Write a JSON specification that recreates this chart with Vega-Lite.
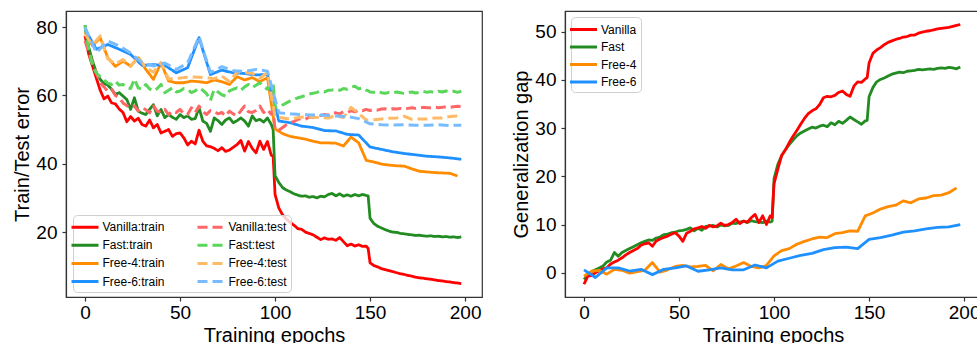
{
"$schema":"https://vega.github.io/schema/vega-lite/v6.json",
"padding":{"left":12,"top":10,"right":0,"bottom":0},
"background":"white",
"spacing":83,
"bounds":"flush",
"config":{
 "font":"Liberation Sans",
 "view":{"stroke":"#333","strokeWidth":1.2},
 "axis":{"grid":false,"domainColor":"#333","domainWidth":1.2,"tickColor":"#333","tickWidth":1.2,"tickSize":4,"labelFontSize":19,"titleFontSize":20,"labelColor":"black","titleColor":"black","titleFontWeight":"normal","labelFlush":false,"labelOverlap":false},
 "legend":{"title":null,"fillColor":"rgba(255,255,255,0.8)","strokeColor":"#d0d0d0","cornerRadius":4,"padding":4,"symbolType":"M-2,0L2,0","symbolSize":182,"symbolStrokeWidth":3,"labelFontSize":12,"labelColor":"black","labelOffset":9,"rowPadding":2.5}
},
"resolve":{"scale":{"color":"independent","strokeDash":"independent","x":"independent","y":"independent"},"legend":{"color":"independent","strokeDash":"independent"}},
"datasets":{
"left":[
{"k":"Vanilla:train","e":0,"v":77.5},{"k":"Vanilla:train","e":2,"v":72.0},{"k":"Vanilla:train","e":4,"v":68.5},{"k":"Vanilla:train","e":6,"v":65.0},{"k":"Vanilla:train","e":8,"v":61.5},{"k":"Vanilla:train","e":10,"v":59.0},{"k":"Vanilla:train","e":12,"v":59.8},{"k":"Vanilla:train","e":14,"v":57.8},{"k":"Vanilla:train","e":16,"v":57.5},{"k":"Vanilla:train","e":18,"v":56.0},{"k":"Vanilla:train","e":20,"v":55.0},{"k":"Vanilla:train","e":22,"v":52.3},{"k":"Vanilla:train","e":24,"v":53.8},{"k":"Vanilla:train","e":26,"v":52.5},{"k":"Vanilla:train","e":28,"v":53.3},{"k":"Vanilla:train","e":30,"v":51.5},{"k":"Vanilla:train","e":32,"v":51.0},{"k":"Vanilla:train","e":34,"v":52.8},{"k":"Vanilla:train","e":36,"v":50.5},{"k":"Vanilla:train","e":38,"v":51.5},{"k":"Vanilla:train","e":40,"v":49.0},{"k":"Vanilla:train","e":42,"v":49.5},{"k":"Vanilla:train","e":44,"v":50.0},{"k":"Vanilla:train","e":46,"v":48.0},{"k":"Vanilla:train","e":48,"v":48.8},{"k":"Vanilla:train","e":50,"v":49.0},{"k":"Vanilla:train","e":52,"v":47.6},{"k":"Vanilla:train","e":54,"v":45.5},{"k":"Vanilla:train","e":56,"v":46.6},{"k":"Vanilla:train","e":58,"v":45.8},{"k":"Vanilla:train","e":60,"v":49.8},{"k":"Vanilla:train","e":62,"v":46.6},{"k":"Vanilla:train","e":64,"v":45.2},{"k":"Vanilla:train","e":66,"v":45.0},{"k":"Vanilla:train","e":68,"v":44.5},{"k":"Vanilla:train","e":70,"v":43.8},{"k":"Vanilla:train","e":72,"v":44.7},{"k":"Vanilla:train","e":74,"v":43.6},{"k":"Vanilla:train","e":76,"v":44.0},{"k":"Vanilla:train","e":78,"v":44.8},{"k":"Vanilla:train","e":80,"v":45.6},{"k":"Vanilla:train","e":82,"v":46.8},{"k":"Vanilla:train","e":84,"v":43.7},{"k":"Vanilla:train","e":86,"v":46.5},{"k":"Vanilla:train","e":88,"v":44.5},{"k":"Vanilla:train","e":90,"v":43.2},{"k":"Vanilla:train","e":92,"v":46.6},{"k":"Vanilla:train","e":94,"v":44.2},{"k":"Vanilla:train","e":96,"v":46.5},{"k":"Vanilla:train","e":98,"v":42.5},{"k":"Vanilla:train","e":99,"v":42.2},{"k":"Vanilla:train","e":100,"v":31.0},{"k":"Vanilla:train","e":102,"v":27.0},{"k":"Vanilla:train","e":104,"v":25.0},{"k":"Vanilla:train","e":106,"v":23.8},{"k":"Vanilla:train","e":108,"v":22.8},{"k":"Vanilla:train","e":110,"v":22.0},{"k":"Vanilla:train","e":112,"v":21.0},{"k":"Vanilla:train","e":114,"v":20.8},{"k":"Vanilla:train","e":116,"v":20.0},{"k":"Vanilla:train","e":118,"v":19.6},{"k":"Vanilla:train","e":120,"v":19.2},{"k":"Vanilla:train","e":122,"v":18.5},{"k":"Vanilla:train","e":124,"v":17.8},{"k":"Vanilla:train","e":126,"v":18.3},{"k":"Vanilla:train","e":128,"v":17.9},{"k":"Vanilla:train","e":130,"v":18.0},{"k":"Vanilla:train","e":132,"v":17.6},{"k":"Vanilla:train","e":134,"v":18.4},{"k":"Vanilla:train","e":136,"v":17.2},{"k":"Vanilla:train","e":138,"v":16.0},{"k":"Vanilla:train","e":140,"v":16.5},{"k":"Vanilla:train","e":142,"v":15.9},{"k":"Vanilla:train","e":144,"v":16.3},{"k":"Vanilla:train","e":146,"v":15.8},{"k":"Vanilla:train","e":148,"v":15.9},{"k":"Vanilla:train","e":149,"v":15.2},{"k":"Vanilla:train","e":150,"v":11.0},{"k":"Vanilla:train","e":152,"v":10.2},{"k":"Vanilla:train","e":154,"v":9.8},{"k":"Vanilla:train","e":156,"v":9.3},{"k":"Vanilla:train","e":158,"v":9.0},{"k":"Vanilla:train","e":160,"v":8.7},{"k":"Vanilla:train","e":162,"v":8.4},{"k":"Vanilla:train","e":164,"v":8.1},{"k":"Vanilla:train","e":166,"v":7.8},{"k":"Vanilla:train","e":168,"v":7.6},{"k":"Vanilla:train","e":170,"v":7.3},{"k":"Vanilla:train","e":172,"v":7.1},{"k":"Vanilla:train","e":174,"v":6.8},{"k":"Vanilla:train","e":176,"v":6.6},{"k":"Vanilla:train","e":178,"v":6.5},{"k":"Vanilla:train","e":180,"v":6.3},{"k":"Vanilla:train","e":182,"v":6.2},{"k":"Vanilla:train","e":184,"v":6.0},{"k":"Vanilla:train","e":186,"v":5.8},{"k":"Vanilla:train","e":188,"v":5.7},{"k":"Vanilla:train","e":190,"v":5.5},{"k":"Vanilla:train","e":192,"v":5.4},{"k":"Vanilla:train","e":194,"v":5.2},{"k":"Vanilla:train","e":196,"v":5.1},{"k":"Vanilla:train","e":198,"v":4.9},
{"k":"Fast:train","e":0,"v":80.5},{"k":"Fast:train","e":2,"v":74.0},{"k":"Fast:train","e":4,"v":70.0},{"k":"Fast:train","e":6,"v":66.6},{"k":"Fast:train","e":8,"v":64.7},{"k":"Fast:train","e":10,"v":63.5},{"k":"Fast:train","e":12,"v":63.0},{"k":"Fast:train","e":14,"v":61.8},{"k":"Fast:train","e":16,"v":60.3},{"k":"Fast:train","e":18,"v":60.8},{"k":"Fast:train","e":20,"v":59.8},{"k":"Fast:train","e":22,"v":58.8},{"k":"Fast:train","e":24,"v":55.9},{"k":"Fast:train","e":26,"v":59.3},{"k":"Fast:train","e":28,"v":55.4},{"k":"Fast:train","e":30,"v":54.8},{"k":"Fast:train","e":32,"v":54.4},{"k":"Fast:train","e":34,"v":55.9},{"k":"Fast:train","e":36,"v":57.3},{"k":"Fast:train","e":38,"v":54.0},{"k":"Fast:train","e":40,"v":55.9},{"k":"Fast:train","e":42,"v":53.5},{"k":"Fast:train","e":44,"v":54.4},{"k":"Fast:train","e":46,"v":53.6},{"k":"Fast:train","e":48,"v":53.0},{"k":"Fast:train","e":50,"v":54.4},{"k":"Fast:train","e":52,"v":53.5},{"k":"Fast:train","e":54,"v":54.0},{"k":"Fast:train","e":56,"v":53.0},{"k":"Fast:train","e":58,"v":53.2},{"k":"Fast:train","e":60,"v":56.4},{"k":"Fast:train","e":62,"v":52.5},{"k":"Fast:train","e":64,"v":51.8},{"k":"Fast:train","e":66,"v":49.5},{"k":"Fast:train","e":68,"v":53.4},{"k":"Fast:train","e":70,"v":52.6},{"k":"Fast:train","e":72,"v":51.5},{"k":"Fast:train","e":74,"v":52.8},{"k":"Fast:train","e":76,"v":53.4},{"k":"Fast:train","e":78,"v":52.0},{"k":"Fast:train","e":80,"v":52.6},{"k":"Fast:train","e":82,"v":53.4},{"k":"Fast:train","e":84,"v":52.5},{"k":"Fast:train","e":86,"v":51.0},{"k":"Fast:train","e":88,"v":54.0},{"k":"Fast:train","e":90,"v":52.6},{"k":"Fast:train","e":92,"v":53.0},{"k":"Fast:train","e":94,"v":52.2},{"k":"Fast:train","e":96,"v":53.4},{"k":"Fast:train","e":98,"v":51.5},{"k":"Fast:train","e":99,"v":50.0},{"k":"Fast:train","e":100,"v":36.5},{"k":"Fast:train","e":102,"v":34.5},{"k":"Fast:train","e":104,"v":33.0},{"k":"Fast:train","e":106,"v":32.3},{"k":"Fast:train","e":108,"v":31.8},{"k":"Fast:train","e":110,"v":31.2},{"k":"Fast:train","e":112,"v":30.8},{"k":"Fast:train","e":114,"v":30.5},{"k":"Fast:train","e":116,"v":30.6},{"k":"Fast:train","e":118,"v":30.2},{"k":"Fast:train","e":120,"v":30.4},{"k":"Fast:train","e":122,"v":30.0},{"k":"Fast:train","e":124,"v":30.5},{"k":"Fast:train","e":126,"v":30.3},{"k":"Fast:train","e":128,"v":31.0},{"k":"Fast:train","e":130,"v":31.3},{"k":"Fast:train","e":132,"v":30.6},{"k":"Fast:train","e":134,"v":31.2},{"k":"Fast:train","e":136,"v":30.5},{"k":"Fast:train","e":138,"v":30.9},{"k":"Fast:train","e":140,"v":30.5},{"k":"Fast:train","e":142,"v":31.0},{"k":"Fast:train","e":144,"v":30.6},{"k":"Fast:train","e":146,"v":31.0},{"k":"Fast:train","e":148,"v":30.7},{"k":"Fast:train","e":149,"v":30.6},{"k":"Fast:train","e":150,"v":24.0},{"k":"Fast:train","e":152,"v":22.5},{"k":"Fast:train","e":154,"v":21.7},{"k":"Fast:train","e":156,"v":21.2},{"k":"Fast:train","e":158,"v":20.7},{"k":"Fast:train","e":160,"v":20.3},{"k":"Fast:train","e":162,"v":20.0},{"k":"Fast:train","e":164,"v":19.9},{"k":"Fast:train","e":166,"v":19.6},{"k":"Fast:train","e":168,"v":19.5},{"k":"Fast:train","e":170,"v":19.3},{"k":"Fast:train","e":172,"v":19.2},{"k":"Fast:train","e":174,"v":19.0},{"k":"Fast:train","e":176,"v":19.1},{"k":"Fast:train","e":178,"v":18.9},{"k":"Fast:train","e":180,"v":18.8},{"k":"Fast:train","e":182,"v":18.9},{"k":"Fast:train","e":184,"v":18.7},{"k":"Fast:train","e":186,"v":18.8},{"k":"Fast:train","e":188,"v":18.6},{"k":"Fast:train","e":190,"v":18.7},{"k":"Fast:train","e":192,"v":18.5},{"k":"Fast:train","e":194,"v":18.6},{"k":"Fast:train","e":196,"v":18.4},{"k":"Fast:train","e":198,"v":18.6},
{"k":"Free-4:train","e":0,"v":78.5},{"k":"Free-4:train","e":4,"v":74.5},{"k":"Free-4:train","e":8,"v":76.9},{"k":"Free-4:train","e":12,"v":71.0},{"k":"Free-4:train","e":16,"v":68.5},{"k":"Free-4:train","e":20,"v":70.0},{"k":"Free-4:train","e":24,"v":68.6},{"k":"Free-4:train","e":28,"v":71.0},{"k":"Free-4:train","e":32,"v":67.6},{"k":"Free-4:train","e":36,"v":64.7},{"k":"Free-4:train","e":40,"v":69.5},{"k":"Free-4:train","e":44,"v":64.2},{"k":"Free-4:train","e":48,"v":63.7},{"k":"Free-4:train","e":52,"v":63.7},{"k":"Free-4:train","e":56,"v":64.2},{"k":"Free-4:train","e":60,"v":64.0},{"k":"Free-4:train","e":64,"v":63.7},{"k":"Free-4:train","e":68,"v":64.5},{"k":"Free-4:train","e":72,"v":64.0},{"k":"Free-4:train","e":76,"v":63.2},{"k":"Free-4:train","e":80,"v":65.5},{"k":"Free-4:train","e":84,"v":64.5},{"k":"Free-4:train","e":88,"v":65.2},{"k":"Free-4:train","e":92,"v":64.0},{"k":"Free-4:train","e":96,"v":65.2},{"k":"Free-4:train","e":100,"v":50.2},{"k":"Free-4:train","e":104,"v":48.8},{"k":"Free-4:train","e":108,"v":48.0},{"k":"Free-4:train","e":112,"v":47.6},{"k":"Free-4:train","e":116,"v":47.2},{"k":"Free-4:train","e":120,"v":46.6},{"k":"Free-4:train","e":124,"v":46.1},{"k":"Free-4:train","e":128,"v":46.1},{"k":"Free-4:train","e":132,"v":46.0},{"k":"Free-4:train","e":136,"v":45.2},{"k":"Free-4:train","e":140,"v":47.8},{"k":"Free-4:train","e":144,"v":46.1},{"k":"Free-4:train","e":148,"v":41.0},{"k":"Free-4:train","e":152,"v":40.5},{"k":"Free-4:train","e":156,"v":39.9},{"k":"Free-4:train","e":160,"v":39.6},{"k":"Free-4:train","e":164,"v":39.4},{"k":"Free-4:train","e":168,"v":39.3},{"k":"Free-4:train","e":172,"v":38.5},{"k":"Free-4:train","e":176,"v":37.8},{"k":"Free-4:train","e":180,"v":37.6},{"k":"Free-4:train","e":184,"v":37.4},{"k":"Free-4:train","e":188,"v":37.3},{"k":"Free-4:train","e":192,"v":37.2},{"k":"Free-4:train","e":196,"v":36.4},
{"k":"Free-6:train","e":0,"v":79.3},{"k":"Free-6:train","e":6,"v":73.5},{"k":"Free-6:train","e":12,"v":74.9},{"k":"Free-6:train","e":18,"v":73.5},{"k":"Free-6:train","e":24,"v":72.0},{"k":"Free-6:train","e":30,"v":68.8},{"k":"Free-6:train","e":36,"v":69.0},{"k":"Free-6:train","e":42,"v":68.8},{"k":"Free-6:train","e":48,"v":66.6},{"k":"Free-6:train","e":54,"v":68.1},{"k":"Free-6:train","e":60,"v":76.9},{"k":"Free-6:train","e":66,"v":66.1},{"k":"Free-6:train","e":72,"v":67.4},{"k":"Free-6:train","e":78,"v":66.6},{"k":"Free-6:train","e":84,"v":66.4},{"k":"Free-6:train","e":90,"v":66.0},{"k":"Free-6:train","e":96,"v":66.1},{"k":"Free-6:train","e":102,"v":52.5},{"k":"Free-6:train","e":108,"v":52.0},{"k":"Free-6:train","e":114,"v":51.0},{"k":"Free-6:train","e":120,"v":50.6},{"k":"Free-6:train","e":126,"v":49.7},{"k":"Free-6:train","e":132,"v":49.6},{"k":"Free-6:train","e":138,"v":48.6},{"k":"Free-6:train","e":144,"v":48.4},{"k":"Free-6:train","e":150,"v":44.9},{"k":"Free-6:train","e":156,"v":44.2},{"k":"Free-6:train","e":162,"v":43.5},{"k":"Free-6:train","e":168,"v":43.0},{"k":"Free-6:train","e":174,"v":42.6},{"k":"Free-6:train","e":180,"v":42.2},{"k":"Free-6:train","e":186,"v":42.0},{"k":"Free-6:train","e":192,"v":41.7},{"k":"Free-6:train","e":198,"v":41.3},
{"k":"Vanilla:test","e":0,"v":76.0},{"k":"Vanilla:test","e":2,"v":72.5},{"k":"Vanilla:test","e":4,"v":69.5},{"k":"Vanilla:test","e":6,"v":66.5},{"k":"Vanilla:test","e":8,"v":63.7},{"k":"Vanilla:test","e":10,"v":62.5},{"k":"Vanilla:test","e":12,"v":61.2},{"k":"Vanilla:test","e":14,"v":61.8},{"k":"Vanilla:test","e":16,"v":60.0},{"k":"Vanilla:test","e":18,"v":59.3},{"k":"Vanilla:test","e":20,"v":57.8},{"k":"Vanilla:test","e":22,"v":57.0},{"k":"Vanilla:test","e":24,"v":56.4},{"k":"Vanilla:test","e":26,"v":56.9},{"k":"Vanilla:test","e":28,"v":55.4},{"k":"Vanilla:test","e":30,"v":56.4},{"k":"Vanilla:test","e":32,"v":55.8},{"k":"Vanilla:test","e":34,"v":54.9},{"k":"Vanilla:test","e":36,"v":56.9},{"k":"Vanilla:test","e":38,"v":55.4},{"k":"Vanilla:test","e":40,"v":55.0},{"k":"Vanilla:test","e":42,"v":55.9},{"k":"Vanilla:test","e":44,"v":54.4},{"k":"Vanilla:test","e":46,"v":55.4},{"k":"Vanilla:test","e":48,"v":55.0},{"k":"Vanilla:test","e":50,"v":55.9},{"k":"Vanilla:test","e":52,"v":54.6},{"k":"Vanilla:test","e":54,"v":54.4},{"k":"Vanilla:test","e":56,"v":56.4},{"k":"Vanilla:test","e":58,"v":55.0},{"k":"Vanilla:test","e":60,"v":56.9},{"k":"Vanilla:test","e":62,"v":55.2},{"k":"Vanilla:test","e":64,"v":54.4},{"k":"Vanilla:test","e":66,"v":55.6},{"k":"Vanilla:test","e":68,"v":55.4},{"k":"Vanilla:test","e":70,"v":54.6},{"k":"Vanilla:test","e":72,"v":55.0},{"k":"Vanilla:test","e":74,"v":54.0},{"k":"Vanilla:test","e":76,"v":55.4},{"k":"Vanilla:test","e":78,"v":54.6},{"k":"Vanilla:test","e":80,"v":54.0},{"k":"Vanilla:test","e":82,"v":55.5},{"k":"Vanilla:test","e":84,"v":56.9},{"k":"Vanilla:test","e":86,"v":55.2},{"k":"Vanilla:test","e":88,"v":55.0},{"k":"Vanilla:test","e":90,"v":55.6},{"k":"Vanilla:test","e":92,"v":56.9},{"k":"Vanilla:test","e":94,"v":55.0},{"k":"Vanilla:test","e":96,"v":55.9},{"k":"Vanilla:test","e":98,"v":54.5},{"k":"Vanilla:test","e":99,"v":55.4},{"k":"Vanilla:test","e":100,"v":50.0},{"k":"Vanilla:test","e":102,"v":49.8},{"k":"Vanilla:test","e":104,"v":50.6},{"k":"Vanilla:test","e":106,"v":51.4},{"k":"Vanilla:test","e":108,"v":52.0},{"k":"Vanilla:test","e":110,"v":52.4},{"k":"Vanilla:test","e":112,"v":53.0},{"k":"Vanilla:test","e":114,"v":53.2},{"k":"Vanilla:test","e":116,"v":53.0},{"k":"Vanilla:test","e":118,"v":53.7},{"k":"Vanilla:test","e":120,"v":53.5},{"k":"Vanilla:test","e":122,"v":54.0},{"k":"Vanilla:test","e":124,"v":54.1},{"k":"Vanilla:test","e":126,"v":54.4},{"k":"Vanilla:test","e":128,"v":54.3},{"k":"Vanilla:test","e":130,"v":54.8},{"k":"Vanilla:test","e":132,"v":54.9},{"k":"Vanilla:test","e":134,"v":54.6},{"k":"Vanilla:test","e":136,"v":55.2},{"k":"Vanilla:test","e":138,"v":55.0},{"k":"Vanilla:test","e":140,"v":55.5},{"k":"Vanilla:test","e":142,"v":55.2},{"k":"Vanilla:test","e":144,"v":55.7},{"k":"Vanilla:test","e":146,"v":55.5},{"k":"Vanilla:test","e":148,"v":55.9},{"k":"Vanilla:test","e":149,"v":55.7},{"k":"Vanilla:test","e":150,"v":55.6},{"k":"Vanilla:test","e":152,"v":55.9},{"k":"Vanilla:test","e":154,"v":55.7},{"k":"Vanilla:test","e":156,"v":56.0},{"k":"Vanilla:test","e":158,"v":56.1},{"k":"Vanilla:test","e":160,"v":55.9},{"k":"Vanilla:test","e":162,"v":56.1},{"k":"Vanilla:test","e":164,"v":56.0},{"k":"Vanilla:test","e":166,"v":56.2},{"k":"Vanilla:test","e":168,"v":56.0},{"k":"Vanilla:test","e":170,"v":56.2},{"k":"Vanilla:test","e":172,"v":56.4},{"k":"Vanilla:test","e":174,"v":56.2},{"k":"Vanilla:test","e":176,"v":56.3},{"k":"Vanilla:test","e":178,"v":56.5},{"k":"Vanilla:test","e":180,"v":56.4},{"k":"Vanilla:test","e":182,"v":56.4},{"k":"Vanilla:test","e":184,"v":56.6},{"k":"Vanilla:test","e":186,"v":56.4},{"k":"Vanilla:test","e":188,"v":56.5},{"k":"Vanilla:test","e":190,"v":56.7},{"k":"Vanilla:test","e":192,"v":56.5},{"k":"Vanilla:test","e":194,"v":56.7},{"k":"Vanilla:test","e":196,"v":56.8},{"k":"Vanilla:test","e":198,"v":56.7},
{"k":"Fast:test","e":0,"v":80.5},{"k":"Fast:test","e":2,"v":73.5},{"k":"Fast:test","e":4,"v":68.5},{"k":"Fast:test","e":6,"v":66.5},{"k":"Fast:test","e":8,"v":65.5},{"k":"Fast:test","e":10,"v":64.5},{"k":"Fast:test","e":12,"v":63.6},{"k":"Fast:test","e":14,"v":63.2},{"k":"Fast:test","e":16,"v":64.2},{"k":"Fast:test","e":18,"v":63.0},{"k":"Fast:test","e":20,"v":63.2},{"k":"Fast:test","e":22,"v":62.3},{"k":"Fast:test","e":24,"v":62.0},{"k":"Fast:test","e":26,"v":64.8},{"k":"Fast:test","e":28,"v":62.2},{"k":"Fast:test","e":30,"v":61.8},{"k":"Fast:test","e":32,"v":63.2},{"k":"Fast:test","e":34,"v":61.9},{"k":"Fast:test","e":36,"v":61.3},{"k":"Fast:test","e":38,"v":62.0},{"k":"Fast:test","e":40,"v":63.2},{"k":"Fast:test","e":42,"v":60.8},{"k":"Fast:test","e":44,"v":61.5},{"k":"Fast:test","e":46,"v":62.2},{"k":"Fast:test","e":48,"v":61.0},{"k":"Fast:test","e":50,"v":61.3},{"k":"Fast:test","e":52,"v":62.0},{"k":"Fast:test","e":54,"v":61.8},{"k":"Fast:test","e":56,"v":60.8},{"k":"Fast:test","e":58,"v":61.3},{"k":"Fast:test","e":60,"v":62.2},{"k":"Fast:test","e":62,"v":61.5},{"k":"Fast:test","e":64,"v":60.5},{"k":"Fast:test","e":66,"v":58.5},{"k":"Fast:test","e":68,"v":61.8},{"k":"Fast:test","e":70,"v":61.0},{"k":"Fast:test","e":72,"v":60.2},{"k":"Fast:test","e":74,"v":59.8},{"k":"Fast:test","e":76,"v":61.3},{"k":"Fast:test","e":78,"v":61.8},{"k":"Fast:test","e":80,"v":62.2},{"k":"Fast:test","e":82,"v":61.5},{"k":"Fast:test","e":84,"v":62.5},{"k":"Fast:test","e":86,"v":63.2},{"k":"Fast:test","e":88,"v":62.3},{"k":"Fast:test","e":90,"v":63.0},{"k":"Fast:test","e":92,"v":63.7},{"k":"Fast:test","e":94,"v":62.7},{"k":"Fast:test","e":96,"v":61.8},{"k":"Fast:test","e":98,"v":64.0},{"k":"Fast:test","e":99,"v":63.5},{"k":"Fast:test","e":100,"v":56.5},{"k":"Fast:test","e":102,"v":56.5},{"k":"Fast:test","e":104,"v":57.2},{"k":"Fast:test","e":106,"v":57.8},{"k":"Fast:test","e":108,"v":58.4},{"k":"Fast:test","e":110,"v":58.8},{"k":"Fast:test","e":112,"v":59.3},{"k":"Fast:test","e":114,"v":59.6},{"k":"Fast:test","e":116,"v":60.0},{"k":"Fast:test","e":118,"v":60.4},{"k":"Fast:test","e":120,"v":60.6},{"k":"Fast:test","e":122,"v":60.9},{"k":"Fast:test","e":124,"v":61.3},{"k":"Fast:test","e":126,"v":61.0},{"k":"Fast:test","e":128,"v":61.5},{"k":"Fast:test","e":130,"v":61.6},{"k":"Fast:test","e":132,"v":61.8},{"k":"Fast:test","e":134,"v":61.5},{"k":"Fast:test","e":136,"v":62.0},{"k":"Fast:test","e":138,"v":61.8},{"k":"Fast:test","e":140,"v":62.4},{"k":"Fast:test","e":142,"v":62.7},{"k":"Fast:test","e":144,"v":61.9},{"k":"Fast:test","e":146,"v":62.2},{"k":"Fast:test","e":148,"v":61.5},{"k":"Fast:test","e":149,"v":61.4},{"k":"Fast:test","e":150,"v":61.0},{"k":"Fast:test","e":152,"v":60.9},{"k":"Fast:test","e":154,"v":61.2},{"k":"Fast:test","e":156,"v":60.8},{"k":"Fast:test","e":158,"v":60.6},{"k":"Fast:test","e":160,"v":60.9},{"k":"Fast:test","e":162,"v":60.7},{"k":"Fast:test","e":164,"v":61.0},{"k":"Fast:test","e":166,"v":60.8},{"k":"Fast:test","e":168,"v":60.5},{"k":"Fast:test","e":170,"v":60.8},{"k":"Fast:test","e":172,"v":61.0},{"k":"Fast:test","e":174,"v":60.7},{"k":"Fast:test","e":176,"v":60.9},{"k":"Fast:test","e":178,"v":61.2},{"k":"Fast:test","e":180,"v":60.9},{"k":"Fast:test","e":182,"v":61.1},{"k":"Fast:test","e":184,"v":60.8},{"k":"Fast:test","e":186,"v":61.2},{"k":"Fast:test","e":188,"v":61.0},{"k":"Fast:test","e":190,"v":61.3},{"k":"Fast:test","e":192,"v":61.0},{"k":"Fast:test","e":194,"v":61.2},{"k":"Fast:test","e":196,"v":60.9},{"k":"Fast:test","e":198,"v":61.2},
{"k":"Free-4:test","e":0,"v":77.8},{"k":"Free-4:test","e":4,"v":74.8},{"k":"Free-4:test","e":8,"v":77.4},{"k":"Free-4:test","e":12,"v":70.7},{"k":"Free-4:test","e":16,"v":69.2},{"k":"Free-4:test","e":20,"v":70.5},{"k":"Free-4:test","e":24,"v":68.5},{"k":"Free-4:test","e":28,"v":71.2},{"k":"Free-4:test","e":32,"v":68.1},{"k":"Free-4:test","e":36,"v":66.8},{"k":"Free-4:test","e":40,"v":69.6},{"k":"Free-4:test","e":44,"v":64.8},{"k":"Free-4:test","e":48,"v":65.0},{"k":"Free-4:test","e":52,"v":65.2},{"k":"Free-4:test","e":56,"v":65.4},{"k":"Free-4:test","e":60,"v":65.3},{"k":"Free-4:test","e":64,"v":65.2},{"k":"Free-4:test","e":68,"v":64.9},{"k":"Free-4:test","e":72,"v":65.7},{"k":"Free-4:test","e":76,"v":64.0},{"k":"Free-4:test","e":80,"v":66.9},{"k":"Free-4:test","e":84,"v":66.6},{"k":"Free-4:test","e":88,"v":66.5},{"k":"Free-4:test","e":92,"v":65.0},{"k":"Free-4:test","e":96,"v":66.7},{"k":"Free-4:test","e":100,"v":53.7},{"k":"Free-4:test","e":104,"v":53.4},{"k":"Free-4:test","e":108,"v":53.0},{"k":"Free-4:test","e":112,"v":53.5},{"k":"Free-4:test","e":116,"v":53.7},{"k":"Free-4:test","e":120,"v":53.6},{"k":"Free-4:test","e":124,"v":53.5},{"k":"Free-4:test","e":128,"v":53.4},{"k":"Free-4:test","e":132,"v":54.1},{"k":"Free-4:test","e":136,"v":53.5},{"k":"Free-4:test","e":140,"v":56.5},{"k":"Free-4:test","e":144,"v":54.7},{"k":"Free-4:test","e":148,"v":52.8},{"k":"Free-4:test","e":152,"v":52.9},{"k":"Free-4:test","e":156,"v":53.1},{"k":"Free-4:test","e":160,"v":53.3},{"k":"Free-4:test","e":164,"v":53.4},{"k":"Free-4:test","e":168,"v":53.9},{"k":"Free-4:test","e":172,"v":53.0},{"k":"Free-4:test","e":176,"v":53.1},{"k":"Free-4:test","e":180,"v":53.1},{"k":"Free-4:test","e":184,"v":53.4},{"k":"Free-4:test","e":188,"v":53.4},{"k":"Free-4:test","e":192,"v":53.8},{"k":"Free-4:test","e":196,"v":54.0},
{"k":"Free-6:test","e":0,"v":79.9},{"k":"Free-6:test","e":6,"v":72.5},{"k":"Free-6:test","e":12,"v":75.9},{"k":"Free-6:test","e":18,"v":74.5},{"k":"Free-6:test","e":24,"v":72.4},{"k":"Free-6:test","e":30,"v":69.5},{"k":"Free-6:test","e":36,"v":68.6},{"k":"Free-6:test","e":42,"v":69.5},{"k":"Free-6:test","e":48,"v":67.6},{"k":"Free-6:test","e":54,"v":69.5},{"k":"Free-6:test","e":60,"v":77.2},{"k":"Free-6:test","e":66,"v":66.7},{"k":"Free-6:test","e":72,"v":68.4},{"k":"Free-6:test","e":78,"v":67.2},{"k":"Free-6:test","e":84,"v":67.0},{"k":"Free-6:test","e":90,"v":67.6},{"k":"Free-6:test","e":96,"v":67.1},{"k":"Free-6:test","e":102,"v":54.9},{"k":"Free-6:test","e":108,"v":54.6},{"k":"Free-6:test","e":114,"v":54.4},{"k":"Free-6:test","e":120,"v":54.3},{"k":"Free-6:test","e":126,"v":54.2},{"k":"Free-6:test","e":132,"v":54.0},{"k":"Free-6:test","e":138,"v":53.8},{"k":"Free-6:test","e":144,"v":53.2},{"k":"Free-6:test","e":150,"v":51.7},{"k":"Free-6:test","e":156,"v":51.4},{"k":"Free-6:test","e":162,"v":51.3},{"k":"Free-6:test","e":168,"v":51.4},{"k":"Free-6:test","e":174,"v":51.3},{"k":"Free-6:test","e":180,"v":51.3},{"k":"Free-6:test","e":186,"v":51.4},{"k":"Free-6:test","e":192,"v":51.2},{"k":"Free-6:test","e":198,"v":51.3}
],
"right":[
{"k":"Fast","e":0,"v":-1.4},{"k":"Fast","e":2,"v":-0.5},{"k":"Fast","e":4,"v":0.2},{"k":"Fast","e":6,"v":0.6},{"k":"Fast","e":8,"v":1.0},{"k":"Fast","e":10,"v":1.4},{"k":"Fast","e":12,"v":2.2},{"k":"Fast","e":14,"v":2.6},{"k":"Fast","e":16,"v":4.2},{"k":"Fast","e":18,"v":3.4},{"k":"Fast","e":20,"v":4.2},{"k":"Fast","e":22,"v":4.6},{"k":"Fast","e":24,"v":5.0},{"k":"Fast","e":26,"v":5.4},{"k":"Fast","e":28,"v":5.8},{"k":"Fast","e":30,"v":6.2},{"k":"Fast","e":32,"v":6.5},{"k":"Fast","e":34,"v":6.8},{"k":"Fast","e":36,"v":6.7},{"k":"Fast","e":38,"v":7.2},{"k":"Fast","e":40,"v":7.4},{"k":"Fast","e":42,"v":7.9},{"k":"Fast","e":44,"v":8.0},{"k":"Fast","e":46,"v":8.3},{"k":"Fast","e":48,"v":8.4},{"k":"Fast","e":50,"v":8.7},{"k":"Fast","e":52,"v":8.8},{"k":"Fast","e":54,"v":9.0},{"k":"Fast","e":56,"v":9.3},{"k":"Fast","e":58,"v":8.7},{"k":"Fast","e":60,"v":9.2},{"k":"Fast","e":62,"v":8.8},{"k":"Fast","e":64,"v":9.6},{"k":"Fast","e":66,"v":9.7},{"k":"Fast","e":68,"v":9.8},{"k":"Fast","e":70,"v":9.5},{"k":"Fast","e":72,"v":9.9},{"k":"Fast","e":74,"v":9.7},{"k":"Fast","e":76,"v":9.8},{"k":"Fast","e":78,"v":10.3},{"k":"Fast","e":80,"v":10.2},{"k":"Fast","e":82,"v":10.5},{"k":"Fast","e":84,"v":10.7},{"k":"Fast","e":86,"v":10.4},{"k":"Fast","e":88,"v":10.8},{"k":"Fast","e":90,"v":10.6},{"k":"Fast","e":92,"v":10.5},{"k":"Fast","e":94,"v":10.4},{"k":"Fast","e":96,"v":10.7},{"k":"Fast","e":98,"v":10.5},{"k":"Fast","e":99,"v":10.7},{"k":"Fast","e":100,"v":19.5},{"k":"Fast","e":102,"v":22.5},{"k":"Fast","e":104,"v":24.3},{"k":"Fast","e":106,"v":25.5},{"k":"Fast","e":108,"v":26.6},{"k":"Fast","e":110,"v":27.5},{"k":"Fast","e":112,"v":28.4},{"k":"Fast","e":114,"v":29.0},{"k":"Fast","e":116,"v":29.4},{"k":"Fast","e":118,"v":29.8},{"k":"Fast","e":120,"v":30.2},{"k":"Fast","e":122,"v":30.0},{"k":"Fast","e":124,"v":30.4},{"k":"Fast","e":126,"v":30.6},{"k":"Fast","e":128,"v":30.3},{"k":"Fast","e":130,"v":31.1},{"k":"Fast","e":132,"v":30.7},{"k":"Fast","e":134,"v":31.4},{"k":"Fast","e":136,"v":31.0},{"k":"Fast","e":138,"v":31.6},{"k":"Fast","e":140,"v":32.3},{"k":"Fast","e":142,"v":31.8},{"k":"Fast","e":144,"v":31.3},{"k":"Fast","e":146,"v":30.8},{"k":"Fast","e":148,"v":31.5},{"k":"Fast","e":149,"v":31.6},{"k":"Fast","e":150,"v":36.5},{"k":"Fast","e":152,"v":38.4},{"k":"Fast","e":154,"v":39.6},{"k":"Fast","e":156,"v":40.1},{"k":"Fast","e":158,"v":40.4},{"k":"Fast","e":160,"v":40.8},{"k":"Fast","e":162,"v":41.2},{"k":"Fast","e":164,"v":41.4},{"k":"Fast","e":166,"v":41.6},{"k":"Fast","e":168,"v":41.5},{"k":"Fast","e":170,"v":41.8},{"k":"Fast","e":172,"v":41.9},{"k":"Fast","e":174,"v":42.0},{"k":"Fast","e":176,"v":42.2},{"k":"Fast","e":178,"v":42.1},{"k":"Fast","e":180,"v":42.2},{"k":"Fast","e":182,"v":42.3},{"k":"Fast","e":184,"v":42.2},{"k":"Fast","e":186,"v":42.4},{"k":"Fast","e":188,"v":42.5},{"k":"Fast","e":190,"v":42.4},{"k":"Fast","e":192,"v":42.6},{"k":"Fast","e":194,"v":42.5},{"k":"Fast","e":196,"v":42.3},{"k":"Fast","e":198,"v":42.7},
{"k":"Vanilla","e":0,"v":-2.4},{"k":"Vanilla","e":2,"v":-0.7},{"k":"Vanilla","e":4,"v":-0.6},{"k":"Vanilla","e":6,"v":0.0},{"k":"Vanilla","e":8,"v":0.4},{"k":"Vanilla","e":10,"v":0.8},{"k":"Vanilla","e":12,"v":1.0},{"k":"Vanilla","e":14,"v":1.8},{"k":"Vanilla","e":16,"v":2.2},{"k":"Vanilla","e":18,"v":2.6},{"k":"Vanilla","e":20,"v":3.1},{"k":"Vanilla","e":22,"v":3.7},{"k":"Vanilla","e":24,"v":4.2},{"k":"Vanilla","e":26,"v":4.6},{"k":"Vanilla","e":28,"v":5.0},{"k":"Vanilla","e":30,"v":5.7},{"k":"Vanilla","e":32,"v":6.0},{"k":"Vanilla","e":34,"v":6.2},{"k":"Vanilla","e":36,"v":5.5},{"k":"Vanilla","e":38,"v":6.6},{"k":"Vanilla","e":40,"v":7.0},{"k":"Vanilla","e":42,"v":7.3},{"k":"Vanilla","e":44,"v":7.6},{"k":"Vanilla","e":46,"v":8.0},{"k":"Vanilla","e":48,"v":8.3},{"k":"Vanilla","e":50,"v":7.6},{"k":"Vanilla","e":52,"v":6.5},{"k":"Vanilla","e":54,"v":8.2},{"k":"Vanilla","e":56,"v":8.6},{"k":"Vanilla","e":58,"v":9.1},{"k":"Vanilla","e":60,"v":9.3},{"k":"Vanilla","e":62,"v":9.6},{"k":"Vanilla","e":64,"v":9.2},{"k":"Vanilla","e":66,"v":9.8},{"k":"Vanilla","e":68,"v":9.5},{"k":"Vanilla","e":70,"v":9.7},{"k":"Vanilla","e":72,"v":10.3},{"k":"Vanilla","e":74,"v":9.8},{"k":"Vanilla","e":76,"v":10.0},{"k":"Vanilla","e":78,"v":10.4},{"k":"Vanilla","e":80,"v":11.1},{"k":"Vanilla","e":82,"v":10.2},{"k":"Vanilla","e":84,"v":10.7},{"k":"Vanilla","e":86,"v":10.5},{"k":"Vanilla","e":88,"v":11.4},{"k":"Vanilla","e":90,"v":12.1},{"k":"Vanilla","e":92,"v":10.4},{"k":"Vanilla","e":94,"v":11.8},{"k":"Vanilla","e":96,"v":10.0},{"k":"Vanilla","e":98,"v":11.8},{"k":"Vanilla","e":99,"v":11.5},{"k":"Vanilla","e":100,"v":18.5},{"k":"Vanilla","e":102,"v":21.5},{"k":"Vanilla","e":104,"v":24.3},{"k":"Vanilla","e":106,"v":25.5},{"k":"Vanilla","e":108,"v":27.0},{"k":"Vanilla","e":110,"v":28.3},{"k":"Vanilla","e":112,"v":29.5},{"k":"Vanilla","e":114,"v":30.8},{"k":"Vanilla","e":116,"v":32.0},{"k":"Vanilla","e":118,"v":33.0},{"k":"Vanilla","e":120,"v":33.6},{"k":"Vanilla","e":122,"v":34.0},{"k":"Vanilla","e":124,"v":34.9},{"k":"Vanilla","e":126,"v":36.3},{"k":"Vanilla","e":128,"v":36.6},{"k":"Vanilla","e":130,"v":36.5},{"k":"Vanilla","e":132,"v":36.8},{"k":"Vanilla","e":134,"v":37.4},{"k":"Vanilla","e":136,"v":37.7},{"k":"Vanilla","e":138,"v":37.0},{"k":"Vanilla","e":140,"v":36.6},{"k":"Vanilla","e":142,"v":38.7},{"k":"Vanilla","e":144,"v":39.6},{"k":"Vanilla","e":146,"v":39.5},{"k":"Vanilla","e":148,"v":40.2},{"k":"Vanilla","e":149,"v":40.5},{"k":"Vanilla","e":150,"v":43.5},{"k":"Vanilla","e":152,"v":45.5},{"k":"Vanilla","e":154,"v":46.2},{"k":"Vanilla","e":156,"v":46.7},{"k":"Vanilla","e":158,"v":47.3},{"k":"Vanilla","e":160,"v":47.8},{"k":"Vanilla","e":162,"v":48.1},{"k":"Vanilla","e":164,"v":48.4},{"k":"Vanilla","e":166,"v":48.6},{"k":"Vanilla","e":168,"v":48.9},{"k":"Vanilla","e":170,"v":49.0},{"k":"Vanilla","e":172,"v":49.3},{"k":"Vanilla","e":174,"v":49.3},{"k":"Vanilla","e":176,"v":49.7},{"k":"Vanilla","e":178,"v":49.9},{"k":"Vanilla","e":180,"v":50.1},{"k":"Vanilla","e":182,"v":50.2},{"k":"Vanilla","e":184,"v":50.4},{"k":"Vanilla","e":186,"v":50.6},{"k":"Vanilla","e":188,"v":50.7},{"k":"Vanilla","e":190,"v":50.8},{"k":"Vanilla","e":192,"v":50.9},{"k":"Vanilla","e":194,"v":51.1},{"k":"Vanilla","e":196,"v":51.3},{"k":"Vanilla","e":198,"v":51.5},
{"k":"Free-4","e":0,"v":-0.7},{"k":"Free-4","e":4,"v":0.3},{"k":"Free-4","e":8,"v":0.5},{"k":"Free-4","e":12,"v":-0.3},{"k":"Free-4","e":16,"v":0.7},{"k":"Free-4","e":20,"v":0.5},{"k":"Free-4","e":24,"v":-0.1},{"k":"Free-4","e":28,"v":0.2},{"k":"Free-4","e":32,"v":0.5},{"k":"Free-4","e":36,"v":2.1},{"k":"Free-4","e":40,"v":0.1},{"k":"Free-4","e":44,"v":0.6},{"k":"Free-4","e":48,"v":1.3},{"k":"Free-4","e":52,"v":1.5},{"k":"Free-4","e":56,"v":1.2},{"k":"Free-4","e":60,"v":1.3},{"k":"Free-4","e":64,"v":1.5},{"k":"Free-4","e":68,"v":0.4},{"k":"Free-4","e":72,"v":1.7},{"k":"Free-4","e":76,"v":0.8},{"k":"Free-4","e":80,"v":1.4},{"k":"Free-4","e":84,"v":2.1},{"k":"Free-4","e":88,"v":1.3},{"k":"Free-4","e":92,"v":1.0},{"k":"Free-4","e":96,"v":1.5},{"k":"Free-4","e":100,"v":3.5},{"k":"Free-4","e":104,"v":4.6},{"k":"Free-4","e":108,"v":5.0},{"k":"Free-4","e":112,"v":5.9},{"k":"Free-4","e":116,"v":6.5},{"k":"Free-4","e":120,"v":7.0},{"k":"Free-4","e":124,"v":7.4},{"k":"Free-4","e":128,"v":7.3},{"k":"Free-4","e":132,"v":8.1},{"k":"Free-4","e":136,"v":8.3},{"k":"Free-4","e":140,"v":8.7},{"k":"Free-4","e":144,"v":8.6},{"k":"Free-4","e":148,"v":11.8},{"k":"Free-4","e":152,"v":12.4},{"k":"Free-4","e":156,"v":13.2},{"k":"Free-4","e":160,"v":13.7},{"k":"Free-4","e":164,"v":14.0},{"k":"Free-4","e":168,"v":14.9},{"k":"Free-4","e":172,"v":14.5},{"k":"Free-4","e":176,"v":15.3},{"k":"Free-4","e":180,"v":15.5},{"k":"Free-4","e":184,"v":16.0},{"k":"Free-4","e":188,"v":16.1},{"k":"Free-4","e":192,"v":16.6},{"k":"Free-4","e":196,"v":17.6},
{"k":"Free-6","e":0,"v":0.6},{"k":"Free-6","e":6,"v":-1.0},{"k":"Free-6","e":12,"v":1.0},{"k":"Free-6","e":18,"v":1.0},{"k":"Free-6","e":24,"v":0.35},{"k":"Free-6","e":30,"v":0.7},{"k":"Free-6","e":36,"v":-0.4},{"k":"Free-6","e":42,"v":0.7},{"k":"Free-6","e":48,"v":1.0},{"k":"Free-6","e":54,"v":1.4},{"k":"Free-6","e":60,"v":0.3},{"k":"Free-6","e":66,"v":0.6},{"k":"Free-6","e":72,"v":1.0},{"k":"Free-6","e":78,"v":0.6},{"k":"Free-6","e":84,"v":0.6},{"k":"Free-6","e":90,"v":1.6},{"k":"Free-6","e":96,"v":1.0},{"k":"Free-6","e":102,"v":2.4},{"k":"Free-6","e":108,"v":3.0},{"k":"Free-6","e":114,"v":3.6},{"k":"Free-6","e":120,"v":4.0},{"k":"Free-6","e":126,"v":4.8},{"k":"Free-6","e":132,"v":5.2},{"k":"Free-6","e":138,"v":5.3},{"k":"Free-6","e":144,"v":5.0},{"k":"Free-6","e":150,"v":6.9},{"k":"Free-6","e":156,"v":7.3},{"k":"Free-6","e":162,"v":7.8},{"k":"Free-6","e":168,"v":8.4},{"k":"Free-6","e":174,"v":8.7},{"k":"Free-6","e":180,"v":9.1},{"k":"Free-6","e":186,"v":9.4},{"k":"Free-6","e":192,"v":9.5},{"k":"Free-6","e":198,"v":10.0}
]
},
"hconcat":[
{
 "width":416,"height":286,
 "data":{"name":"left"},
 "encoding":{
  "x":{"field":"e","type":"quantitative","scale":{"domain":[-10,208.9],"nice":false,"zero":false},"axis":{"values":[0,50,100,150,200],"title":"Training epochs","labelPadding":2,"titlePadding":3}},
  "y":{"field":"v","type":"quantitative","scale":{"domain":[1.0,84.7],"nice":false,"zero":false},"axis":{"values":[20,40,60,80],"title":"Train/Test error","labelPadding":5,"titlePadding":3}},
  "color":{"field":"k","type":"nominal","scale":{"domain":["Vanilla:train","Fast:train","Free-4:train","Free-6:train","Vanilla:test","Fast:test","Free-4:test","Free-6:test"],"range":["#ff0000","#228b22","#ff8c00","#1e90ff","#ff6666","#5ad65a","#ffba66","#78bcff"]},"legend":{"orient":"none","legendX":7,"legendY":204,"columns":2,"columnPadding":26,"rowPadding":3.2,"padding":3.5}},
  "strokeDash":{"field":"k","type":"nominal","scale":{"domain":["Vanilla:train","Fast:train","Free-4:train","Free-6:train","Vanilla:test","Fast:test","Free-4:test","Free-6:test"],"range":[[1,0],[1,0],[1,0],[1,0],[10,5],[10,5],[10,5],[10,5]]},"legend":{"orient":"none","legendX":7,"legendY":204,"columns":2,"columnPadding":26,"rowPadding":3.2,"padding":3.5}}
 },
 "layer":[
  {"transform":[{"filter":"indexof(datum.k, ':train') >= 0"}],"mark":{"type":"line","strokeWidth":2.8,"strokeJoin":"round"}},
  {"transform":[{"filter":"indexof(datum.k, ':test') >= 0"}],"mark":{"type":"line","strokeWidth":3,"strokeJoin":"round"}}
 ]
},
{
 "width":416,"height":286,
 "data":{"name":"right"},
 "mark":{"type":"line","strokeWidth":2.8,"strokeJoin":"round"},
 "encoding":{
  "x":{"field":"e","type":"quantitative","scale":{"domain":[-10,208.9],"nice":false,"zero":false},"axis":{"values":[0,50,100,150,200],"title":"Training epochs","labelPadding":2,"titlePadding":3}},
  "y":{"field":"v","type":"quantitative","scale":{"domain":[-5.04,54.3],"nice":false,"zero":false},"axis":{"values":[0,10,20,30,40,50],"title":"Generalization gap","labelPadding":5,"titlePadding":3}},
  "color":{"field":"k","type":"nominal","scale":{"domain":["Vanilla","Fast","Free-4","Free-6"],"range":["#ff0000","#228b22","#ff8c00","#1e90ff"]},"legend":{"orient":"top-left","offset":6}}
 }
}
]
}
